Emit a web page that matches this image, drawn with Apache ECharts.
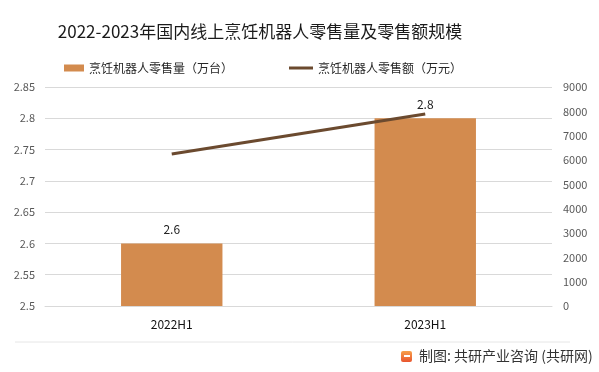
<!DOCTYPE html>
<html><head><meta charset="utf-8">
<script src="https://cdn.jsdelivr.net/npm/echarts@6/dist/echarts.min.js"></script>
<style>html,body{margin:0;padding:0;background:#fff}#c{width:599px;height:372px}</style>
</head><body><div id="c"></div>
<script>
const categories = ['2022H1', '2023H1'];
const salesVolume = [2.6, 2.8];      // 万台
const salesAmount = [6250, 7890];    // 万元
const leftTicks = [2.5, 2.85, 0.05];
const rightTicks = [0, 9000, 1000];

const chart = echarts.init(document.getElementById('c'));
const font = '"Microsoft YaHei","Noto Sans CJK SC","Noto Sans",sans-serif';
const legText = { fontSize: 12, color: '#262626', fontFamily: font };
chart.setOption({
  backgroundColor: '#fff',
  animation: false,
  textStyle: { fontFamily: font },
  title: {
    text: '2022-2023年国内线上烹饪机器人零售量及零售额规模',
    left: 255, textAlign: 'center', top: 18,
    textStyle: { fontSize: 17, fontWeight: 'normal', color: '#1a1a1a', fontFamily: font }
  },
  legend: [
    {
      top: 57, left: 59, itemGap: 4, textStyle: legText,
      data: [{ name: '烹饪机器人零售量（万台）', icon: 'rect', itemStyle: { color: '#D38B4E' } }],
      itemWidth: 20, itemHeight: 7
    },
    {
      top: 57, left: 284, itemGap: 2, textStyle: legText,
      data: [{ name: '烹饪机器人零售额（万元）', icon: 'path://M0,0L24,0L24,3L0,3Z', itemStyle: { color: '#6B4A2F' } }],
      itemWidth: 24, itemHeight: 3
    }
  ],
  grid: { left: 45, right: 47, top: 87, bottom: 66, containLabel: false },
  xAxis: {
    type: 'category', data: categories,
    axisLine: { lineStyle: { color: '#d9d9d9' } },
    axisTick: { show: false },
    axisLabel: { color: '#111', fontSize: 12, margin: 12 }
  },
  yAxis: [
    {
      type: 'value', min: leftTicks[0], max: leftTicks[1], interval: leftTicks[2],
      axisLine: { show: false }, axisTick: { show: false },
      axisLabel: { color: '#595959', fontSize: 11, margin: 10, formatter: v => String(+v.toFixed(2)) },
      splitLine: { lineStyle: { color: '#d9d9d9' } }
    },
    {
      type: 'value', min: rightTicks[0], max: rightTicks[1], interval: rightTicks[2],
      axisLine: { show: false }, axisTick: { show: false },
      axisLabel: { color: '#595959', fontSize: 11, margin: 11, formatter: v => String(v) },
      splitLine: { show: false }
    }
  ],
  series: [
    {
      name: '烹饪机器人零售量（万台）', type: 'bar', data: salesVolume, barWidth: '40%',
      itemStyle: { color: '#D38B4E' },
      label: { show: true, position: 'top', distance: 8, color: '#222', fontSize: 12 }
    },
    {
      name: '烹饪机器人零售额（万元）', type: 'line', yAxisIndex: 1, data: salesAmount,
      symbol: 'none', lineStyle: { color: '#6B4A2F', width: 3 }, itemStyle: { color: '#6B4A2F' }
    }
  ],
  graphic: [
    { type: 'line', shape: { x1: 15, y1: 342, x2: 570, y2: 342 }, style: { stroke: '#e6e6e6', lineWidth: 1 } },
    { type: 'rect', shape: { x: 401, y: 351, width: 11, height: 11, r: 2 },
      style: { fill: new echarts.graphic.LinearGradient(0, 0, 0, 1, [{ offset: 0, color: '#f7a04a' }, { offset: 1, color: '#e8552f' }]) } },
    { type: 'rect', shape: { x: 404, y: 355, width: 6, height: 2 }, style: { fill: '#fff' } },
    { type: 'text', left: 419, top: 349,
      style: { text: '制图: 共研产业咨询 (共研网)', fontSize: 14, fill: '#333', fontFamily: font } }
  ]
});
</script></body></html>
